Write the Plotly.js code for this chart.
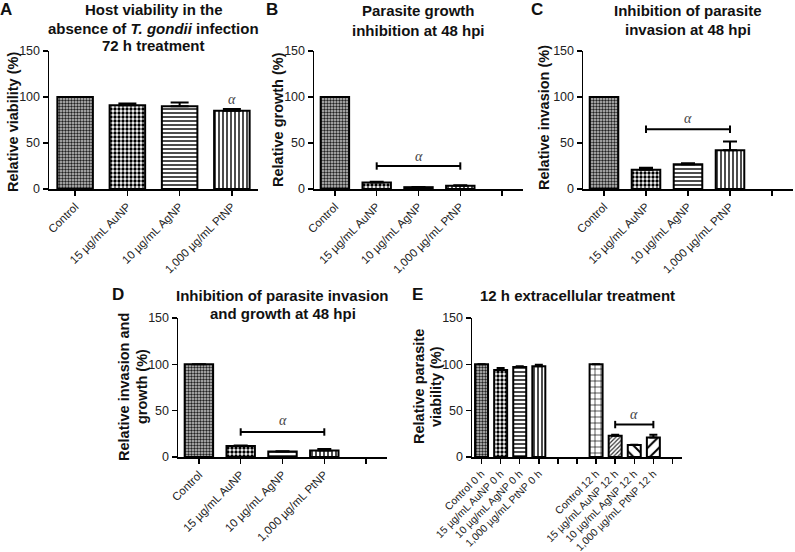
<!DOCTYPE html>
<html><head><meta charset="utf-8">
<script src="https://cdn.plot.ly/plotly-3.0.1.min.js"></script>
<style>html,body{margin:0;padding:0;background:#fff}</style>
</head><body><div id="chart" style="width:795px;height:552px"></div>
<script>
// ---------- data ----------
const labelsA = ["Control", "15 µg/mL AuNP", "10 µg/mL AgNP", "1,000 µg/mL PtNP"];
const labelsBCD = ["Control", "15 µg/mL AuNP", "10 µg/mL AgNP", "1,000 µg/mL PtNP", ""];
const valsA = [100, 91, 90, 85];
const errA = [0, 2, 4, 2];
const valsB = [100, 7, 2, 3.5, null];
const errB = [0, 0.8, 0.3, 0.5, 0];
const valsC = [100, 21, 27, 42, null];
const errC = [0, 2, 1, 9.5, 0];
const valsD = [100, 12, 6, 7, null];
const errD = [0, 0.5, 0.3, 1.5, 0];
const labelsE = ["Control 0 h", "15 µg/mL AuNP 0 h", "10 µg/mL AgNP 0 h", "1,000 µg/mL PtNP 0 h", "", "",
                 "Control 12 h", "15 µg/mL AuNP 12 h", "10 µg/mL AgNP 12 h", "1,000 µg/mL PtNP 12 h", ""];
const valsE = [100, 94, 97, 98, null, null, 100, 23, 13, 21, null];
const errE = [0, 2, 1, 1.5, 0, 0, 0, 1, 0.3, 3, 0];
// significance: bracket from/to category index, bracket level, alpha level
const sigA = {x: 3, alpha: 97};
const sigB = {from: 1, to: 3, level: 25, alpha: 35};
const sigC = {from: 1, to: 3, level: 65, alpha: 77};
const sigD = {from: 1, to: 3, level: 27, alpha: 39};
const sigE = {from: 7, to: 9, level: 35, alpha: 46};
const titleA = ["Host viability in the", "absence of <i>T. gondii</i> infection", "72 h treatment"];
const titleB = ["Parasite growth", "inhibition at 48 hpi"];
const titleC = ["Inhibition of parasite", "invasion at 48 hpi"];
const titleD = ["Inhibition of parasite invasion", "and growth at 48 hpi"];
const titleE = ["12 h extracellular treatment"];
const yTitleA = ["Relative viability (%)"];
const yTitleB = ["Relative growth (%)"];
const yTitleC = ["Relative invasion (%)"];
const yTitleD = ["Relative invasion and", "growth (%)"];
const yTitleE = ["Relative parasite", "viability (%)"];

// ---------- styles ----------
const FONT = "Arial, 'Liberation Sans', sans-serif";
const pat4 = {
  shape: [".", ".", "-", "|", ""],
  size: [3, 4, 4, 4, 4],
  solidity: [0.5, 0.55, 0.35, 0.35, 0.3],
  fgcolor: ["#222", "#000", "#000", "#000", "#000"],
  bgcolor: ["#c8c8c8", "#fff", "#fff", "#fff", "#fff"]
};
const patE = {
  shape: [".", ".", "-", "|", "", "", "+", "/", "\\", "/", ""],
  size: [3, 4, 4, 4, 4, 4, 6, 3, 8, 8, 4],
  solidity: [0.5, 0.55, 0.35, 0.35, 0.3, 0.3, 0.2, 0.4, 0.25, 0.25, 0.3],
  fgcolor: ["#222", "#000", "#000", "#000", "#000", "#000", "#000", "#333", "#000", "#000", "#000"],
  bgcolor: ["#c8c8c8", "#fff", "#fff", "#fff", "#fff", "#fff", "#fff", "#fff", "#fff", "#fff", "#fff"]
};

function idx(arr) { return arr.map((_, i) => i); }
function zeros(arr) { return arr.map(() => 0); }

function barTrace(vals, err, pat, ax, capw) {
  const n = vals.length;
  return {
    type: "bar", x: idx(vals), y: vals, xaxis: "x" + ax, yaxis: "y" + ax,
    width: 0.68,
    marker: {color: "#fff", line: {color: "#000", width: 2}, pattern: {
      shape: pat.shape.slice(0, n), size: pat.size.slice(0, n), solidity: pat.solidity.slice(0, n),
      fgcolor: pat.fgcolor.slice(0, n), bgcolor: pat.bgcolor.slice(0, n), fillmode: "replace"}},
    error_y: {type: "data", symmetric: false, array: err, arrayminus: zeros(err),
              color: "#000", thickness: 2, width: capw},
    hoverinfo: "skip", showlegend: false
  };
}
function bracketTrace(sig, ax) {
  return {
    type: "scatter", mode: "lines", x: [sig.from, sig.to], y: [sig.level, sig.level],
    xaxis: "x" + ax, yaxis: "y" + ax, line: {color: "#000", width: 2},
    error_y: {type: "data", array: [4, 4], color: "#000", thickness: 2, width: 0},
    hoverinfo: "skip", showlegend: false
  };
}

const data = [
  barTrace(valsA, errA, pat4, "", 9),
  barTrace(valsB, errB, pat4, "2", 7),
  bracketTrace(sigB, "2"),
  barTrace(valsC, errC, pat4, "3", 7),
  bracketTrace(sigC, "3"),
  barTrace(valsD, errD, pat4, "4", 7),
  bracketTrace(sigD, "4"),
  barTrace(valsE, errE, patE, "5", 4),
  bracketTrace(sigE, "5")
];

const W = 795, H = 552;
function xdom(a, b) { return [a / W, b / W]; }
function ydom(top, bottom) { return [1 - bottom / H, 1 - top / H]; }

function xaxis(labels, dom, anchor, fs) {
  return {
    domain: dom, anchor: anchor, range: [-0.5, labels.length - 0.5],
    tickmode: "array", tickvals: idx(labels), ticktext: labels,
    tickangle: -45, ticks: "outside", ticklen: 5, tickwidth: 1.5, tickcolor: "#000",
    showline: true, linecolor: "#000", linewidth: 1.5, showgrid: false, zeroline: false,
    tickfont: {family: FONT, size: fs, color: "#222"}, fixedrange: true
  };
}
function yaxis(dom, anchor) {
  return {
    domain: dom, anchor: anchor, range: [0, 150],
    tickmode: "array", tickvals: [0, 50, 100, 150],
    ticks: "outside", ticklen: 5, tickwidth: 1.5, tickcolor: "#000",
    showline: true, linecolor: "#000", linewidth: 1.5, showgrid: false, zeroline: false,
    tickfont: {family: FONT, size: 12.5, color: "#222"}, fixedrange: true
  };
}

const topRow = ydom(51, 189), botRow = ydom(318, 457);

function ann(text, xpx, ypx, size, opts) {
  return Object.assign({
    xref: "paper", yref: "paper", x: xpx / W, y: 1 - ypx / H, text: text, showarrow: false,
    font: {family: FONT, size: size, color: "#111"}, xanchor: "center", yanchor: "middle"
  }, opts || {});
}
// multi-line text placed line by line with given line centres
function lines(arr, xpx, ys, size) {
  return arr.map((t, i) => ann("<b>" + t + "</b>", xpx, ys[i], size));
}
function ylines(arr, xs, ypx, size) {
  return arr.map((t, i) => ann("<b>" + t + "</b>", xs[i], ypx, size, {textangle: -90}));
}
function alpha(x, y, ax) {
  return {xref: "x" + ax, yref: "y" + ax, x: x, y: y, text: "<i>α</i>", showarrow: false,
          font: {family: "'Liberation Serif', 'DejaVu Serif', serif", size: 14, color: "#444"},
          xanchor: "center", yanchor: "middle"};
}

const layout = {
  width: W, height: H, margin: {l: 0, r: 0, t: 0, b: 0},
  paper_bgcolor: "#fff", plot_bgcolor: "rgba(0,0,0,0)", showlegend: false,
  xaxis: xaxis(labelsA, xdom(49, 258), "y", 11.5),
  yaxis: yaxis(topRow, "x"),
  xaxis2: xaxis(labelsBCD, xdom(314, 523), "y2", 11.5),
  yaxis2: yaxis(topRow, "x2"),
  xaxis3: xaxis(labelsBCD, xdom(583, 793), "y3", 11.5),
  yaxis3: yaxis(topRow, "x3"),
  xaxis4: xaxis(labelsBCD, xdom(178, 387), "y4", 11.5),
  yaxis4: yaxis(botRow, "x4"),
  xaxis5: xaxis(labelsE, xdom(472, 682), "y5", 10.5),
  yaxis5: yaxis(botRow, "x5"),
  annotations: [].concat(
    [ann("<b>A</b>", 6, 10, 17), ann("<b>B</b>", 272, 10, 17), ann("<b>C</b>", 537, 10, 17),
     ann("<b>D</b>", 118, 294, 17), ann("<b>E</b>", 417, 294, 17)],
    lines(titleA, 153.5, [10, 28, 45], 15),
    lines(titleB, 418.5, [11, 30], 15),
    lines(titleC, 688, [11, 29], 15),
    lines(titleD, 282.5, [295, 313], 15),
    lines(titleE, 577, [295], 15),
    ylines(yTitleA, [13], 122, 14.5),
    ylines(yTitleB, [278], 120, 14.5),
    ylines(yTitleC, [544], 118, 14.5),
    ylines(yTitleD, [124, 142], 387, 14.5),
    ylines(yTitleE, [419, 436], 387, 14.5),
    [alpha(sigA.x, sigA.alpha, ""),
     alpha((sigB.from + sigB.to) / 2, sigB.alpha, "2"),
     alpha((sigC.from + sigC.to) / 2, sigC.alpha, "3"),
     alpha((sigD.from + sigD.to) / 2, sigD.alpha, "4"),
     alpha((sigE.from + sigE.to) / 2, sigE.alpha, "5")]
  )
};

Plotly.newPlot("chart", data, layout, {displayModeBar: false, staticPlot: true});
</script></body></html>
